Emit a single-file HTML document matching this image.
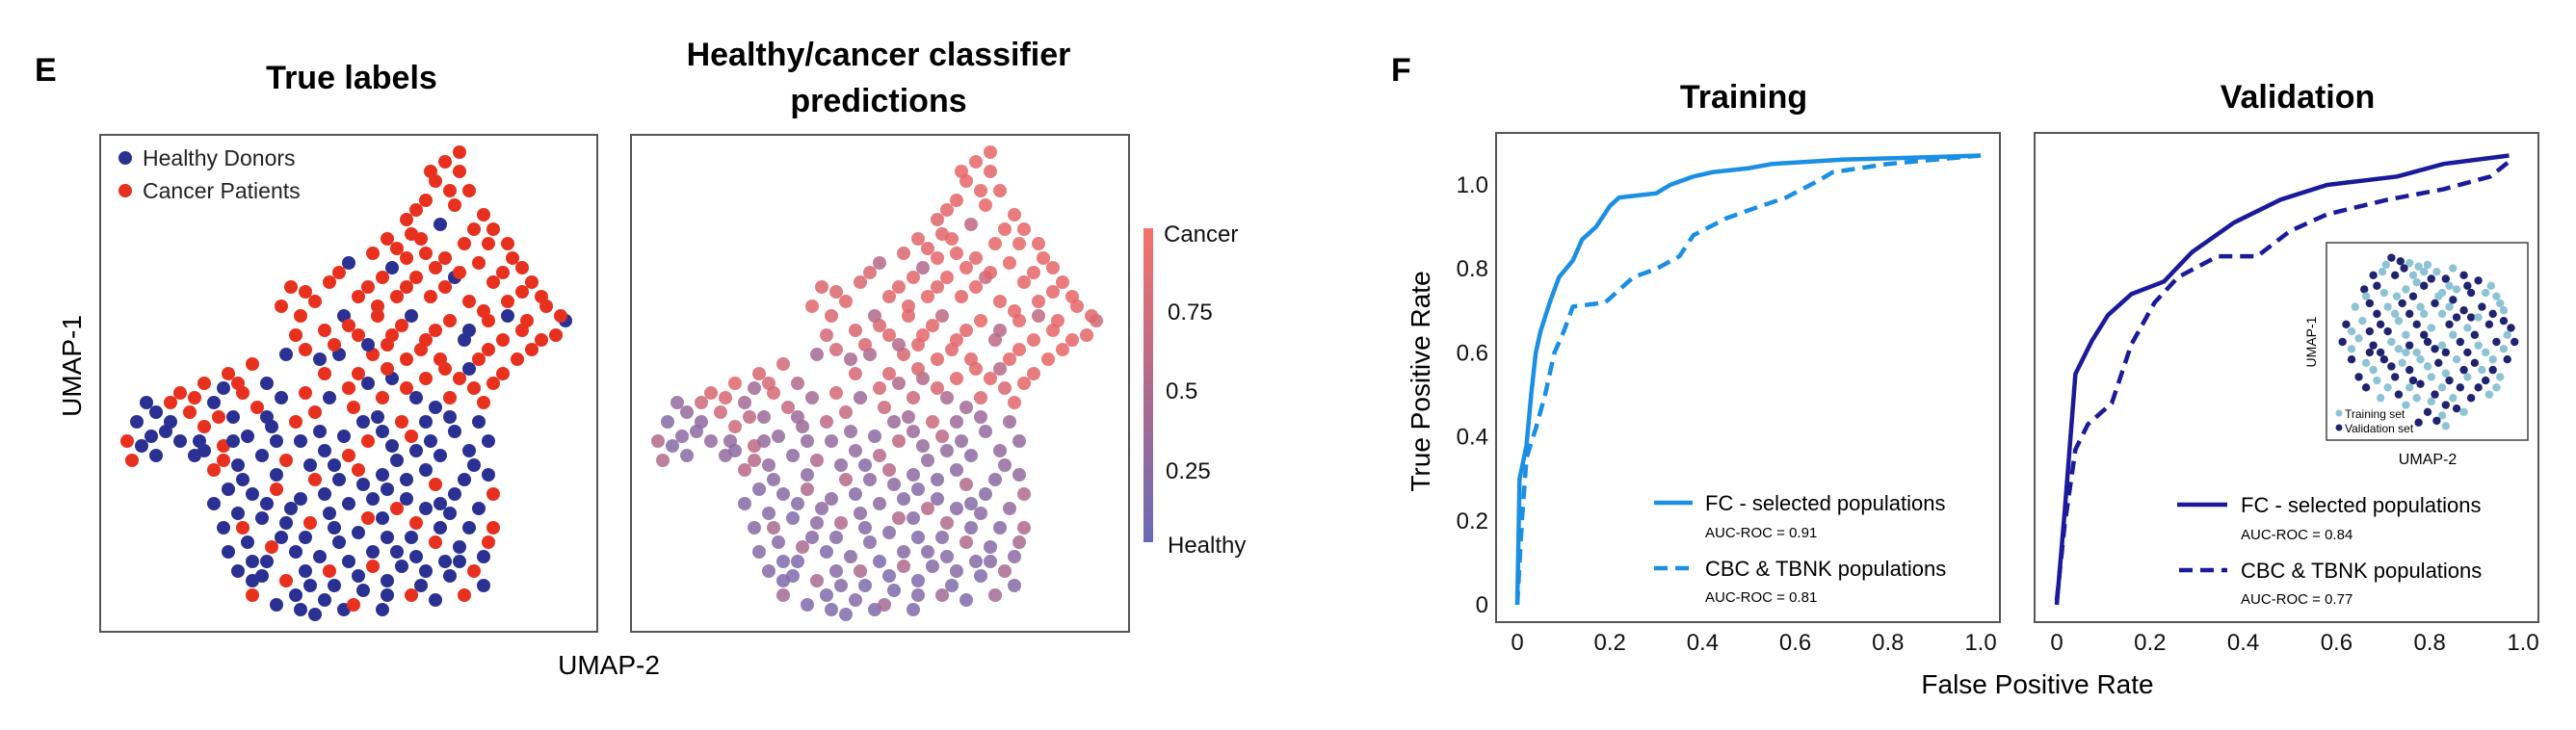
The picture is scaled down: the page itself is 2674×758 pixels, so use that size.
<!DOCTYPE html>
<html><head><meta charset="utf-8"><style>
html,body{margin:0;padding:0;background:#fff;}
svg{display:block;font-family:"Liberation Sans Narrow","Liberation Sans",sans-serif;}
</style></head><body>
<svg id="fig" width="2674" height="758" viewBox="0 0 2674 758" xmlns="http://www.w3.org/2000/svg">
<rect width="2674" height="758" fill="#fff"/>
<!-- Panel E -->
<text x="36" y="84" font-size="34" font-weight="bold" font-family="Liberation Sans, sans-serif">E</text>
<text x="365" y="92" font-size="34" font-weight="bold" text-anchor="middle">True labels</text>
<text x="912" y="68" font-size="34" font-weight="bold" text-anchor="middle">Healthy/cancer classifier</text>
<text x="912" y="116" font-size="34" font-weight="bold" text-anchor="middle">predictions</text>
<rect x="104" y="140" width="516" height="516" fill="none" stroke="#555" stroke-width="2"/>
<rect x="655" y="140" width="517" height="516" fill="none" stroke="#555" stroke-width="2"/>
<g id="ptsL"></g>
<g id="ptsR"></g>
<circle cx="130" cy="164" r="7" fill="#2b3192"/>
<text x="148" y="172" font-size="23" fill="#222">Healthy Donors</text>
<circle cx="130" cy="198" r="7" fill="#e8301e"/>
<text x="148" y="206" font-size="23" fill="#222">Cancer Patients</text>
<defs><linearGradient id="cb" x1="0" y1="0" x2="0" y2="1"><stop offset="0" stop-color="#f5726a"/><stop offset="0.5" stop-color="#b06a8c"/><stop offset="1" stop-color="#6a6ab8"/></linearGradient></defs>
<rect x="1187" y="237" width="10" height="326" fill="url(#cb)"/>
<g font-size="24" fill="#111">
<text x="1208" y="251">Cancer</text>
<text x="1212" y="332">0.75</text>
<text x="1210" y="414">0.5</text>
<text x="1210" y="497">0.25</text>
<text x="1212" y="574">Healthy</text>
</g>
<text transform="translate(84,380) rotate(-90)" font-size="28" text-anchor="middle">UMAP-1</text>
<text x="632" y="700" font-size="28" text-anchor="middle">UMAP-2</text>
<!-- Panel F -->
<text x="1444" y="84" font-size="34" font-weight="bold" font-family="Liberation Sans, sans-serif">F</text>
<text x="1810" y="112" font-size="34" font-weight="bold" text-anchor="middle">Training</text>
<text x="2385" y="112" font-size="34" font-weight="bold" text-anchor="middle">Validation</text>
<rect x="1553" y="138" width="523" height="508" fill="none" stroke="#555" stroke-width="2"/>
<rect x="2112" y="138" width="523" height="508" fill="none" stroke="#555" stroke-width="2"/>
<g id="axes" font-size="24" fill="#111"></g>
<g id="curves"></g>
<text transform="translate(1484,396) rotate(-90)" font-size="28" text-anchor="middle" font-family="Liberation Sans, sans-serif">True Positive Rate</text>
<text x="2115" y="720" font-size="28" text-anchor="middle">False Positive Rate</text>
<!-- legends -->
<g>
<line x1="1717" y1="522" x2="1757" y2="522" stroke="#1a8fe3" stroke-width="4.5"/>
<text x="1770" y="530" font-size="22">FC - selected populations</text>
<text x="1770" y="558" font-size="15">AUC-ROC = 0.91</text>
<line x1="1717" y1="590" x2="1757" y2="590" stroke="#1a8fe3" stroke-width="4.5" stroke-dasharray="14,8"/>
<text x="1770" y="598" font-size="22">CBC &amp; TBNK populations</text>
<text x="1770" y="625" font-size="15">AUC-ROC = 0.81</text>
</g>
<g>
<line x1="2260" y1="524" x2="2312" y2="524" stroke="#1a1a9a" stroke-width="4.5"/>
<text x="2326" y="532" font-size="22">FC - selected populations</text>
<text x="2326" y="560" font-size="15">AUC-ROC = 0.84</text>
<line x1="2262" y1="592" x2="2312" y2="592" stroke="#1a1a9a" stroke-width="4.5" stroke-dasharray="14,8"/>
<text x="2326" y="600" font-size="22">CBC &amp; TBNK populations</text>
<text x="2326" y="627" font-size="15">AUC-ROC = 0.77</text>
</g>
<!-- inset -->
<rect x="2415" y="252" width="209" height="205" fill="#fff" stroke="#444" stroke-width="1.5"/>
<g id="inset"></g>
<circle cx="2428" cy="429" r="3.5" fill="#8ec3d6"/>
<text x="2434" y="434" font-size="12">Training set</text>
<circle cx="2428" cy="444" r="3.5" fill="#1f2370"/>
<text x="2434" y="449" font-size="12">Validation set</text>
<text transform="translate(2404,355) rotate(-90)" font-size="14" text-anchor="middle">UMAP-1</text>
<text x="2520" y="482" font-size="16" text-anchor="middle">UMAP-2</text>
</svg>
<script>
const NS="http://www.w3.org/2000/svg";
// UMAP embedding: [umap2, umap1, trueLabel(1=cancer)]
const umapPoints=[[70,96,1],[73,94,1],[68,92,1],[75,90,1],[66,88,1],[72,87,1],[78,85,1],[62,84,1],[69,83,0],[80,82,1],[58,80,1],[65,80,1],[74,79,1],[83,79,1],[55,77,1],[62,76,1],[70,76,1],[77,75,1],[86,74,1],[50,75,0],[57,72,1],[64,72,1],[72,72,0],[80,71,1],[88,71,1],[46,71,1],[52,68,1],[60,68,1],[67,68,1],[75,67,1],[83,67,1],[91,66,1],[38,70,1],[43,67,1],[49,64,0],[56,64,1],[63,64,0],[71,63,1],[79,63,1],[87,63,1],[95,63,0],[36,66,1],[45,61,1],[52,60,1],[59,60,1],[66,59,1],[74,59,0],[82,59,1],[90,59,1],[41,57,1],[48,56,0],[55,56,1],[62,55,1],[69,55,1],[77,55,1],[85,55,1],[45,52,1],[52,52,1],[59,51,0],[66,51,1],[73,51,1],[80,50,1],[57,47,1],[64,47,0],[71,47,1],[78,46,1],
[37,56,0],[30,54,1],[25,52,1],[20,50,1],[15,48,1],[33,50,0],[28,48,1],[22,46,0],[17,44,1],[10,44,0],[6,42,0],[12,40,0],[7,37,0],[5,34,1],[10,35,0],[15,38,0],[20,41,1],[26,43,0],[31,45,1],[36,47,0],[41,48,1],[46,47,0],[51,45,1],[56,43,0],[61,42,1],[66,42,0],[72,40,0],[77,42,0],[18,35,0],[24,37,1],[29,39,0],[34,41,0],[39,42,1],[44,40,0],[49,39,0],[54,38,1],[59,37,0],[64,36,0],[69,35,0],[75,36,0],[22,32,1],[27,33,0],[32,35,0],[37,34,1],[42,33,0],[47,33,0],[52,32,1],[57,31,0],[62,30,0],[68,29,1],[74,30,0],[79,31,0],
[25,28,0],[30,27,0],[35,28,1],[40,26,0],[45,27,0],[50,25,0],[55,26,0],[60,24,1],[66,24,0],[71,23,0],[77,24,0],[80,20,1],[27,23,0],[32,22,0],[37,21,0],[42,21,1],[47,20,0],[52,19,0],[58,18,0],[63,18,0],[68,17,1],[73,16,0],[78,14,0],[29,17,0],[34,16,1],[39,15,0],[44,14,0],[50,13,0],[55,12,1],[61,12,0],[66,11,0],[71,10,0],[76,11,1],[27,11,0],[32,10,0],[37,9,1],[42,8,0],[47,8,0],[53,7,0],[58,6,0],[63,6,1],[68,5,0],[35,4,0],[40,3,0],[45,5,0],[30,6,1],[60,15,0],[48,17,0],[38,24,0],[24,20,0],
[73,98,1],[64,86,1],[76,82,1],[60,78,1],[68,74,1],[84,76,1],[54,70,1],[90,68,1],[40,64,1],[47,58,1],[58,58,1],[86,61,1],[93,60,1],[68,61,1],[62,49,1],[75,53,0],[82,52,1],[50,49,1],[13,46,1],[9,39,0],[19,38,0],[35,38,0],[57,40,0],[67,38,0],[79,38,0],[45,36,0],[28,30,0],[43,30,1],[53,29,0],[72,27,0],[33,25,0],[57,22,0],[64,21,1],[75,20,0],[30,13,0],[41,11,0],[52,10,0],[70,13,0],[49,3,0],[57,3,0],
[67,94,1],[71,90,1],[63,81,1],[79,79,1],[66,77,1],[73,73,1],[59,74,0],[82,73,1],[48,73,1],[62,70,1],[70,70,1],[86,69,1],[41,69,1],[56,66,1],[78,65,1],[94,64,1],[50,62,1],[61,62,1],[75,61,0],[83,64,0],[39,60,1],[54,58,0],[65,57,1],[79,57,1],[88,57,1],[44,55,0],[58,53,1],[70,53,1],[76,49,1],[68,45,0],[54,50,0],
[27,50,1],[18,47,1],[24,49,0],[8,46,0],[4,38,1],[13,42,0],[23,43,1],[33,43,0],[43,44,1],[53,42,0],[63,39,1],[71,43,0],[76,33,0],[20,36,0],[26,38,0],[40,38,0],[50,35,1],[60,34,0],[66,32,0],[35,31,0],[24,34,1],[48,30,0],[58,28,0],[80,27,1],
[22,25,0],[28,20,1],[36,18,0],[41,18,0],[46,23,0],[54,22,1],[62,26,0],[69,20,0],[79,17,1],[25,15,0],[33,13,0],[46,11,1],[58,9,0],[64,14,0],[73,13,0],[78,8,0],[30,9,0],[39,6,0],[51,4,1],[65,8,0],[43,2,0],[55,15,0],[69,25,0],[74,6,1]];
// classifier predicted probability of cancer, same order as umapPoints
const predProb=[0.9,0.85,0.9,0.88,0.85,0.9,0.88,0.85,0.6,0.9,0.85,0.88,0.9,0.88,0.8,0.88,0.85,0.9,0.88,0.55,0.85,0.9,0.65,0.88,0.9,0.8,0.85,0.9,0.85,0.88,0.9,0.88,0.8,0.85,0.5,0.85,0.6,0.9,0.88,0.9,0.7,0.85,0.8,0.85,0.88,0.85,0.6,0.88,0.9,0.75,0.45,0.8,0.85,0.85,0.88,0.9,0.75,0.8,0.5,0.85,0.88,0.9,0.7,0.45,0.8,0.85,
0.4,0.75,0.8,0.85,0.8,0.5,0.75,0.4,0.7,0.3,0.2,0.25,0.2,0.5,0.2,0.3,0.7,0.35,0.65,0.4,0.75,0.35,0.7,0.4,0.7,0.35,0.3,0.35,0.3,0.6,0.3,0.35,0.6,0.3,0.25,0.6,0.3,0.3,0.25,0.3,0.55,0.3,0.25,0.5,0.25,0.2,0.55,0.25,0.2,0.5,0.25,0.3,
0.2,0.2,0.5,0.25,0.2,0.25,0.2,0.55,0.2,0.25,0.3,0.5,0.2,0.15,0.25,0.5,0.2,0.2,0.15,0.2,0.5,0.2,0.25,0.2,0.45,0.15,0.2,0.15,0.5,0.2,0.2,0.15,0.45,0.2,0.15,0.45,0.2,0.15,0.15,0.2,0.4,0.15,0.15,0.15,0.2,0.4,0.2,0.2,0.25,0.2,
0.9,0.88,0.9,0.85,0.88,0.9,0.85,0.9,0.8,0.8,0.85,0.9,0.88,0.85,0.8,0.55,0.88,0.75,0.7,0.25,0.3,0.3,0.35,0.3,0.3,0.3,0.25,0.55,0.25,0.2,0.2,0.2,0.5,0.2,0.15,0.2,0.15,0.2,0.15,0.15,
0.9,0.88,0.85,0.9,0.88,0.85,0.5,0.9,0.8,0.85,0.88,0.9,0.8,0.85,0.88,0.85,0.8,0.85,0.55,0.6,0.75,0.5,0.85,0.88,0.9,0.45,0.8,0.85,0.8,0.4,0.5,
0.75,0.8,0.4,0.3,0.5,0.25,0.6,0.35,0.65,0.35,0.6,0.35,0.3,0.25,0.3,0.3,0.55,0.3,0.25,0.25,0.55,0.25,0.2,0.5,
0.2,0.45,0.2,0.2,0.25,0.5,0.2,0.2,0.45,0.2,0.15,0.45,0.15,0.2,0.2,0.2,0.15,0.15,0.4,0.15,0.15,0.2,0.2,0.4];
// ROC curves: FPR and TPR arrays
const trFcFpr=[0,0.005,0.02,0.03,0.04,0.05,0.07,0.09,0.12,0.14,0.17,0.2,0.22,0.3,0.33,0.38,0.42,0.5,0.55,0.7,0.85,1];
const trFcTpr=[0,0.3,0.38,0.5,0.6,0.65,0.72,0.78,0.82,0.87,0.9,0.95,0.97,0.98,1.0,1.02,1.03,1.04,1.05,1.06,1.065,1.07];
const trCbcFpr=[0,0.01,0.02,0.04,0.06,0.08,0.1,0.12,0.19,0.25,0.3,0.35,0.38,0.45,0.5,0.58,0.65,0.68,0.8,0.9,1];
const trCbcTpr=[0,0.2,0.35,0.42,0.5,0.6,0.65,0.71,0.72,0.78,0.8,0.83,0.88,0.92,0.94,0.97,1.01,1.03,1.05,1.06,1.07];
const vaFcFpr=[0,0.017,0.04,0.076,0.11,0.16,0.23,0.29,0.38,0.48,0.58,0.73,0.83,0.97];
const vaFcTpr=[0,0.22,0.55,0.63,0.69,0.74,0.77,0.84,0.91,0.965,1.0,1.02,1.05,1.07];
const vaCbcFpr=[0,0.017,0.04,0.067,0.118,0.16,0.21,0.26,0.345,0.43,0.5,0.58,0.71,0.83,0.93,0.975];
const vaCbcTpr=[0.01,0.19,0.37,0.43,0.48,0.62,0.72,0.78,0.83,0.83,0.89,0.93,0.965,0.99,1.02,1.06];
const tickLabels=["0","0.2","0.4","0.6","0.8","1.0"];
const tickValues=[0,0.2,0.4,0.6,0.8,1.0];
// inset embedding: [umap2, umap1, set(1=validation)]
const insetPoints=[[30,98,1],[35,96,1],[40,95,0],[45,93,0],[50,94,0],[25,90,0],[32,88,1],[42,88,0],[55,90,0],[60,86,1],[70,88,1],[78,85,1],[85,82,0],[15,80,1],[22,82,1],[38,80,0],[48,82,1],[58,78,0],[66,80,0],[74,78,1],[88,76,0],[10,70,0],[18,72,1],[28,70,0],[36,72,1],[46,70,0],[54,72,1],[62,70,0],[70,68,1],[80,70,1],[92,68,0],[5,60,1],[14,62,0],[24,60,1],[34,62,0],[44,60,1],[52,58,0],[62,60,1],[72,58,0],[84,60,1],[96,58,1],[3,50,1],[12,52,0],[20,48,1],[30,50,0],[40,48,1],[50,50,1],[58,48,0],[68,50,1],[78,48,0],[88,50,1],[98,50,1],[8,40,1],[16,38,0],[26,40,1],[36,38,0],[46,40,0],[56,38,1],[66,40,0],[76,38,1],[86,40,0],[94,40,1],[12,30,1],[22,28,0],[32,30,1],[42,28,1],[52,30,0],[62,28,1],[72,30,0],[82,28,1],[90,30,0],[24,18,0],[34,20,1],[44,18,0],[54,20,1],[64,18,0],[74,18,1],[84,20,0],[50,10,1],[58,8,0],[66,12,1],[60,2,0],[45,4,1],[55,5,1],[20,88,1],[28,56,1],[48,66,0],[74,64,1],[38,44,0],[60,44,1],[82,44,0],[18,44,1],[30,36,1],[70,34,1],[40,24,0],[78,24,1],[92,62,1],[64,92,0],[33,76,0],[86,34,1],
[27,94,0],[37,92,1],[48,90,0],[52,86,1],[44,84,0],[62,82,0],[72,82,1],[82,78,0],[26,78,0],[16,76,0],[42,76,1],[56,76,0],[64,74,1],[90,72,0],[22,66,1],[32,66,0],[40,66,1],[58,66,0],[66,64,1],[78,64,0],[86,66,1],[8,56,0],[18,56,1],[38,54,0],[48,54,1],[64,54,0],[76,54,1],[94,54,0],[8,46,0],[24,44,1],[34,46,0],[44,44,0],[54,46,1],[72,44,1],[92,46,0],[20,34,0],[40,34,1],[50,36,0],[60,32,0],[80,34,0],[16,24,1],[28,24,0],[46,26,1],[58,24,0],[68,24,1],[88,24,0],[38,14,0],[60,14,1],[70,10,0],[52,16,0]];

function mk(tag,attrs,parent){const e=document.createElementNS(NS,tag);for(const k in attrs)e.setAttribute(k,attrs[k]);parent.appendChild(e);return e;}
function lerp(a,b,t){return Math.round(a+(b-a)*t);}
function probColor(p){const lo=[106,106,184],mid=[176,106,140],hi=[245,100,92];let a,b,t;if(p<0.5){a=lo;b=mid;t=p/0.5;}else{a=mid;b=hi;t=(p-0.5)/0.5;}return `rgb(${lerp(a[0],b[0],t)},${lerp(a[1],b[1],t)},${lerp(a[2],b[2],t)})`;}

// UMAP scatter axes
const ux0L=112, ux0R=663, uw=500, uyB=648, uh=500;
function uxL(u){return ux0L+u/100*uw;}
function uxR(u){return ux0R+u/100*uw;}
function uy(v){return uyB-v/100*uh;}
const gL=document.getElementById('ptsL'), gR=document.getElementById('ptsR');
umapPoints.forEach((p,i)=>{
  const c=mk('circle',{cx:uxL(p[0]),cy:uy(p[1]),r:7,fill:p[2]?'#e8301e':'#2b3192'},gL);
  
  
  const d=mk('circle',{cx:uxR(p[0]),cy:uy(p[1]),r:7,fill:probColor(predProb[i]),'fill-opacity':0.85},gR);
  
  
});

// ROC axes
const panels=[{x0:1575,x1:2056},{x0:2135,x1:2619}];
const ry0=628, ry1=192;
function rx(pi,f){return panels[pi].x0+f*(panels[pi].x1-panels[pi].x0);}
function ry(t){return ry0+t*(ry1-ry0);}
const ax=document.getElementById('axes');
tickValues.forEach((v,i)=>{
  const t=mk('text',{x:1545,y:ry(v)+8,'text-anchor':'end'},ax);
  t.textContent=tickLabels[i];
  
  
  [0,1].forEach(pi=>{
    const s=mk('text',{x:rx(pi,v),y:675,'text-anchor':'middle'},ax);
    s.textContent=tickLabels[i];
    
    
  });
});
const cg=document.getElementById('curves');
function curve(pi,fx,ty,color,dash,name){
  const d=fx.map((f,i)=>(i?'L':'M')+rx(pi,f).toFixed(1)+','+ry(ty[i]).toFixed(1)).join(' ');
  const p=mk('path',{d:d,fill:'none',stroke:color,'stroke-width':4.5,'stroke-linejoin':'round'},cg);
  if(dash)p.setAttribute('stroke-dasharray','14,8');
  
  
}
curve(0,trFcFpr,trFcTpr,'#1a8fe3',false,'training-fc-roc-curve');
curve(0,trCbcFpr,trCbcTpr,'#1a8fe3',true,'training-cbc-roc-curve');
curve(1,vaFcFpr,vaFcTpr,'#1a1a9a',false,'validation-fc-roc-curve');
curve(1,vaCbcFpr,vaCbcTpr,'#1a1a9a',true,'validation-cbc-roc-curve');

// inset
const ig=document.getElementById('inset');
function ix(u){return 2426+u/100*188;}
function iy(v){return 446-v/100*182;}
insetPoints.forEach(p=>{
  const c=mk('circle',{cx:ix(p[0]),cy:iy(p[1]),r:4.2,fill:p[2]?'#1f2370':'#8ec3d6'},ig);
  
  
});
</script>
</body></html>
